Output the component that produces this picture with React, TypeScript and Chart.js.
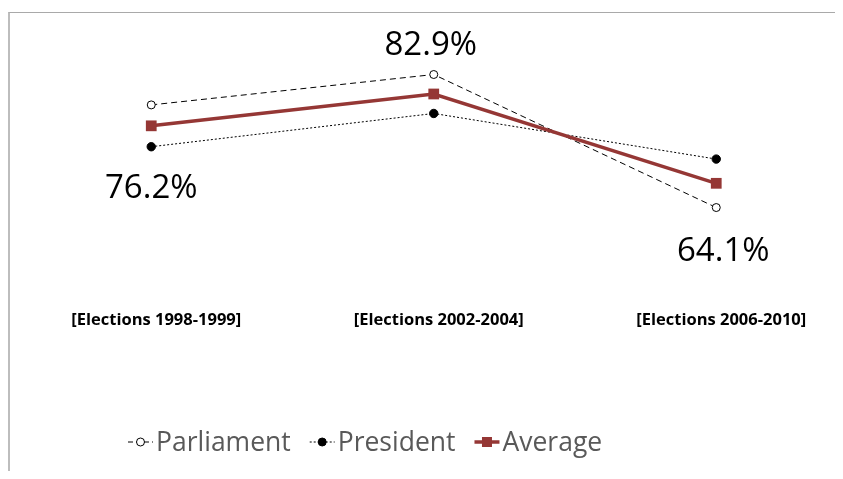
import { useEffect, useRef } from "react";
import { Chart, registerables } from "chart.js";

Chart.register(...registerables);

// Turnout by election round
const categories = ["[Elections 1998-1999]", "[Elections 2002-2004]", "[Elections 2006-2010]"];
const seriesNames = ["Parliament", "President", "Average"];
const parliament = [80.6, 87.0, 59.0];
const president = [71.8, 78.8, 69.2];
const average = [76.2, 82.9, 64.1];

const FONT = "'Open Sans', 'Noto Sans', Arial, sans-serif";
const AVG_RED = "#953735";

type Sample = { name: string; kind: "parl" | "pres" | "avg" };

// Draws the line sample with its marker, used in the legend row
function drawSample(ctx: CanvasRenderingContext2D, kind: Sample["kind"], x: number, y: number, w: number) {
  ctx.save();
  if (kind === "avg") {
    ctx.strokeStyle = AVG_RED;
    ctx.lineWidth = 3.5;
    ctx.beginPath();
    ctx.moveTo(x, y);
    ctx.lineTo(x + w, y);
    ctx.stroke();
    ctx.fillStyle = AVG_RED;
    ctx.fillRect(x + w / 2 - 5, y - 5, 10, 10);
  } else {
    ctx.strokeStyle = "#000";
    ctx.lineWidth = 1;
    ctx.setLineDash(kind === "parl" ? [5, 3] : [2, 2]);
    ctx.beginPath();
    ctx.moveTo(x, y);
    ctx.lineTo(x + w, y);
    ctx.stroke();
    ctx.setLineDash([]);
    ctx.beginPath();
    ctx.arc(x + w / 2, y, 4, 0, Math.PI * 2);
    ctx.fillStyle = kind === "parl" ? "#fff" : "#000";
    ctx.fill();
    ctx.stroke();
  }
  ctx.restore();
}

const legendPlugin = {
  id: "rowLegend",
  afterDraw(chart: any, _args: any, opts: any) {
    const ctx: CanvasRenderingContext2D = chart.ctx;
    const items: Sample[] = [
      { name: seriesNames[0], kind: "parl" },
      { name: seriesNames[1], kind: "pres" },
      { name: seriesNames[2], kind: "avg" },
    ];
    ctx.save();
    ctx.font = `${opts.fontSize}px ${FONT}`;
    ctx.textBaseline = "middle";
    ctx.fillStyle = "#595959";
    let x = opts.x;
    const y = opts.y;
    for (const it of items) {
      drawSample(ctx, it.kind, x, y, opts.sampleWidth);
      x += opts.sampleWidth + 3;
      ctx.fillText(it.name, x, y + 1);
      x += ctx.measureText(it.name).width + opts.gap;
    }
    ctx.restore();
  },
};

const valueLabelPlugin = {
  id: "avgValueLabels",
  afterDatasetsDraw(chart: any, _args: any, opts: any) {
    const idx = chart.data.datasets.findIndex((d: any) => d.label === seriesNames[2]);
    const meta = chart.getDatasetMeta(idx);
    const ctx: CanvasRenderingContext2D = chart.ctx;
    ctx.save();
    ctx.font = `${opts.fontSize}px ${FONT}`;
    ctx.fillStyle = "#000";
    ctx.textAlign = "center";
    ctx.textBaseline = "middle";
    meta.data.forEach((pt: any, i: number) => {
      const off = opts.offsets[i];
      ctx.fillText(`${average[i].toFixed(1)}%`, pt.x + off.dx, pt.y + off.dy);
    });
    ctx.restore();
  },
};

export default function App() {
  const canvasRef = useRef<HTMLCanvasElement | null>(null);

  useEffect(() => {
    const canvas = canvasRef.current;
    if (!canvas) return;
    const chart = new Chart(canvas, {
      type: "line",
      data: {
        labels: categories,
        datasets: [
          {
            label: seriesNames[0],
            data: parliament,
            borderColor: "#000",
            borderWidth: 1,
            borderDash: [6, 4],
            pointStyle: "circle",
            pointRadius: 4,
            pointBorderWidth: 1,
            pointBorderColor: "#000",
            pointBackgroundColor: "#fff",
            tension: 0,
          },
          {
            label: seriesNames[1],
            data: president,
            borderColor: "#000",
            borderWidth: 1,
            borderDash: [2, 2],
            pointStyle: "circle",
            pointRadius: 4.2,
            pointBorderWidth: 1,
            pointBorderColor: "#000",
            pointBackgroundColor: "#000",
            tension: 0,
          },
          {
            label: seriesNames[2],
            data: average,
            borderColor: AVG_RED,
            borderWidth: 3.5,
            pointStyle: "rect",
            pointRadius: 7.6,
            pointBorderWidth: 0,
            pointBackgroundColor: AVG_RED,
            pointBorderColor: AVG_RED,
            tension: 0,
            order: -1,
          },
        ],
      },
      options: {
        responsive: false,
        animation: false,
        events: [],
        clip: false,
        layout: { padding: { left: 143.25, right: 151.75, top: 28.5, bottom: 150.8 } },
        scales: {
          x: {
            type: "category",
            offset: false,
            grid: { display: false, drawTicks: false },
            border: { display: false },
            ticks: {
              padding: 60,
              labelOffset: 5,
              color: "#000",
              font: { family: FONT, size: 16.5, weight: "bold" },
              maxRotation: 0,
              autoSkip: false,
            },
            afterFit(scale: any) {
              scale.height = 77.9;
              scale.paddingLeft = 0;
              scale.paddingRight = 0;
            },
          },
          y: {
            display: false,
            min: 50,
            max: 95,
          },
        },
        plugins: {
          legend: { display: false },
          tooltip: { enabled: false },
          rowLegend: { x: 120, y: 434, sampleWidth: 25, gap: 19, fontSize: 26.5 },
          avgValueLabels: {
            fontSize: 33,
            offsets: [
              { dx: 0, dy: 63 },
              { dx: -3, dy: -48 },
              { dx: 7, dy: 68 },
            ],
          },
        } as any,
      },
      plugins: [legendPlugin, valueLabelPlugin],
    });
    return () => chart.destroy();
  }, []);

  return (
    <div style={{ position: "relative", width: 835, height: 471, marginBottom: -8, overflow: "hidden", background: "#fff" }}>
      <div
        style={{
          position: "absolute",
          left: 0,
          top: 4,
          width: 900,
          height: 500,
          borderLeft: "2px solid #bdbdbd",
          borderTop: "1px solid #a9a9a9",
          pointerEvents: "none",
        }}
      />
      <canvas ref={canvasRef} width={860} height={471} style={{ position: "absolute", left: 0, top: 0, display: "block" }} />
    </div>
  );
}
